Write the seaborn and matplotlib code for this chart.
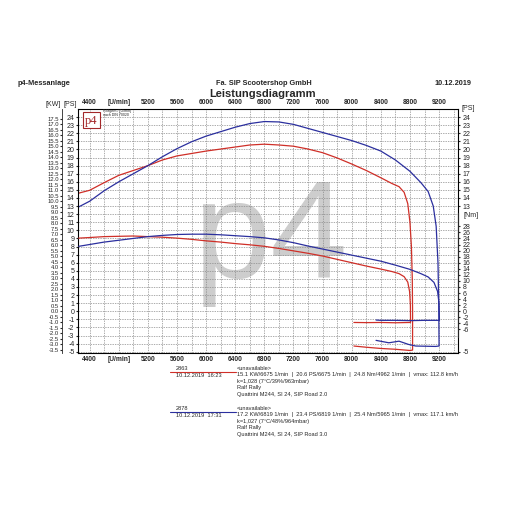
import numpy as np
import pandas as pd
import matplotlib
matplotlib.use("Agg")
import matplotlib.pyplot as plt
from matplotlib.lines import Line2D
from matplotlib.patches import Rectangle
import seaborn as sns

# run 2863 (red) - power [PS] and torque [Nm] vs rpm, incl. coast-down
red_pwr_rpm = [4250, 4400, 4600, 4800, 5000, 5200, 5400, 5600, 5800, 6000, 6200, 6400, 6600, 6800,
               7000, 7200, 7400, 7600, 7800, 8000, 8200, 8400, 8550, 8650, 8720, 8770, 8800, 8820,
               8832, 8836, 8836, 8800, 8600, 8400, 8200, 8030]
red_pwr_ps = [14.6, 14.95, 15.9, 16.8, 17.4, 18.0, 18.7, 19.2, 19.5, 19.8, 20.05, 20.3, 20.55, 20.65,
              20.55, 20.4, 20.05, 19.6, 18.95, 18.2, 17.4, 16.5, 15.8, 15.4, 14.7, 13.3, 11.0, 8.0,
              4.0, 0.0, -4.8, -4.85, -4.7, -4.6, -4.45, -4.3]
red_trq_rpm = [4250, 4400, 4600, 4800, 5000, 5200, 5400, 5600, 5800, 6000, 6200, 6400, 6600, 6800,
               7000, 7200, 7400, 7600, 7800, 8000, 8200, 8400, 8550, 8650, 8720, 8770, 8795, 8806,
               8808, 8600, 8400, 8200, 8030]
red_trq_nm = [24.1, 24.3, 24.6, 24.7, 24.8, 24.6, 24.4, 24.1, 23.7, 23.2, 22.8, 22.3, 21.9, 21.4,
              20.7, 19.9, 19.1, 18.2, 17.1, 16.0, 14.9, 13.9, 13.1, 12.4, 11.4, 9.6, 6.5, 2.0,
              -3.7, -3.8, -3.7, -3.75, -3.7]

# run 2878 (blue)
blue_pwr_rpm = [4250, 4400, 4600, 4800, 5000, 5200, 5400, 5600, 5800, 6000, 6200, 6400, 6600, 6800,
                7000, 7200, 7400, 7600, 7800, 8000, 8200, 8400, 8600, 8800, 8950, 9050, 9120, 9160,
                9185, 9195, 9200, 9150, 8880, 8780, 8650, 8510, 8334]
blue_pwr_ps = [12.9, 13.6, 14.9, 16.0, 17.0, 18.0, 19.1, 20.1, 20.95, 21.65, 22.2, 22.75, 23.2, 23.45,
               23.4, 23.1, 22.6, 22.1, 21.6, 21.1, 20.5, 19.8, 18.7, 17.3, 15.9, 14.8, 13.0, 10.5,
               6.0, 1.0, -4.3, -4.35, -4.3, -4.1, -3.7, -3.9, -3.6]
blue_trq_rpm = [4250, 4400, 4600, 4800, 5000, 5200, 5400, 5600, 5800, 6000, 6200, 6400, 6600, 6800,
                7000, 7200, 7400, 7600, 7800, 8000, 8200, 8400, 8600, 8800, 8950, 9050, 9130, 9180,
                9200, 9205, 9000, 8800, 8600, 8400, 8334]
blue_trq_nm = [21.4, 22.0, 22.8, 23.4, 24.0, 24.6, 25.0, 25.3, 25.4, 25.4, 25.2, 24.9, 24.6, 24.2,
               23.5, 22.6, 21.5, 20.5, 19.5, 18.5, 17.5, 16.5, 15.2, 13.8, 12.4, 11.3, 9.5, 6.5,
               2.5, -3.0, -3.0, -3.1, -3.0, -3.0, -2.9]

rpm_ticks = [4400, 4800, 5200, 5600, 6000, 6400, 6800, 7200, 7600, 8000, 8400, 8800, 9200]
rpm_labels = ["4400", "[U/min]", "5200", "5600", "6000", "6400", "6800", "7200", "7600",
              "8000", "8400", "8800", "9200"]

RED = "#cf2f28"
BLUE = "#2b2f9e"
PS_PER_NM = 0.375
KW_PER_PS = 0.7355
ps_lo, ps_hi = -5.1, 25.0

sns.set_style("white")
plt.rcParams['font.family'] = ['Liberation Sans', 'DejaVu Sans']
plt.rcParams['axes.unicode_minus'] = False

W = 511.0
def px(x, y):
    return x / W, 1 - y / W

fig = plt.figure(figsize=(5.11, 5.11), dpi=100)
ax = fig.add_axes([78 / W, 1 - 352.5 / W, 380 / W, 243.5 / W])
ax.set_xlim(4240, 9460)
ax.set_ylim(ps_lo, ps_hi)
tw = ax.twinx()
tw.set_ylim(ps_lo / PS_PER_NM, ps_hi / PS_PER_NM)

# watermark, below the grid
ax.text(*px(270, 278), "p4", transform=fig.transFigure, fontsize=100, color="#cdcdcd",
        ha="center", va="baseline", zorder=0.1, clip_on=False)

# grid
ax.set_xticks(rpm_ticks)
ax.set_xticklabels(rpm_labels)
ax.set_xticks(np.arange(4400, 9401, 200), minor=True)
ax.set_yticks(np.arange(-5, 25, 1))
ax.grid(True, which="both", axis="x", color="0.55", lw=0.5, ls=(0, (2, 1.5)))
ax.grid(True, which="major", axis="y", color="0.55", lw=0.5, ls=(0, (2, 1.5)))
ax.set_axisbelow(True)
ax.tick_params(axis="x", which="both", length=0, top=True, labeltop=True, labelsize=4.8, pad=2.5)
ax.tick_params(axis="y", which="major", length=1.5, labelsize=5, pad=1)
for lab in ax.get_xticklabels():
    lab.set_fontweight("bold")
for s in ax.spines.values():
    s.set_color("black")
    s.set_linewidth(0.8)

# curves
curves = [
    (ax, red_pwr_rpm, red_pwr_ps, RED),
    (ax, blue_pwr_rpm, blue_pwr_ps, BLUE),
    (tw, red_trq_rpm, red_trq_nm, RED),
    (tw, blue_trq_rpm, blue_trq_nm, BLUE),
]
for a, xs, ys, col in curves:
    df = pd.DataFrame({"rpm": xs, "val": ys})
    sns.lineplot(data=df, x="rpm", y="val", sort=False, estimator=None, color=col,
                 lw=0.9, ax=a)
ax.set_xlabel("")
ax.set_ylabel("")
tw.set_ylabel("")
tw.set_xlim(4240, 9460)

# torque axis on right
tw.set_yticks(np.arange(-6, 29, 2))
tw.tick_params(axis="y", length=1.5, labelsize=5, pad=2)
tw.spines["right"].set_bounds(-8.4, 32.5)
for side in ["left", "top", "bottom"]:
    tw.spines[side].set_visible(False)
tw.grid(False)

# right PS axis
rps = ax.secondary_yaxis("right")
rps.set_yticks(list(range(24, 12, -1)) + [-5])
rps.tick_params(length=1.5, labelsize=5, pad=2)
rps.spines["right"].set_visible(False)

# KW axis on the left
kw = ax.secondary_yaxis(-0.042, functions=(lambda p: p * KW_PER_PS, lambda k: k / KW_PER_PS))
kw_vals = np.arange(-3.5, 17.51, 0.5)
kw.set_yticks(kw_vals)
kw.set_yticklabels([f"{v:.1f}" for v in kw_vals])
kw.tick_params(length=1.5, labelsize=4.2, pad=0.5)
kw.spines["left"].set_linewidth(0.6)

# axis unit labels
fig.text(*px(53, 104), "[KW]", fontsize=5, ha="center", va="center")
fig.text(*px(70, 104), "[PS]", fontsize=5, ha="center", va="center")
fig.text(*px(462, 108), "[PS]", fontsize=5, ha="left", va="center")
fig.text(*px(463, 215), "[Nm]", fontsize=5, ha="left", va="center")

# header
fig.text(*px(18, 83), "p4-Messanlage", fontsize=5.3, fontweight="bold", ha="left", va="center")
fig.text(*px(264, 83), "Fa. SIP Scootershop GmbH", fontsize=5.3, fontweight="bold",
         ha="center", va="center")
fig.text(*px(471, 83), "10.12.2019", fontsize=5.3, fontweight="bold", ha="right", va="center")
fig.text(*px(263, 94), "Leistungsdiagramm", fontsize=8, fontweight="bold",
         ha="center", va="center")

# logo
fig.add_artist(Rectangle(px(83, 128), 17 / W, 16 / W, transform=fig.transFigure,
                         facecolor="white", edgecolor="#a3282a", lw=0.8, zorder=5))
fig.text(*px(91.5, 121), "p4", fontsize=9, color="#a3282a", family="Liberation Serif",
         ha="center", va="center", zorder=6)
fig.text(*px(103, 111), "P/Mgem / [U/min]", fontsize=2.6, ha="left", va="center")
fig.text(*px(103, 114.5), "nach DIN 70020", fontsize=2.6, ha="left", va="center")

# legend block
runs = [
    ("2863", "10.12.2019  16:23", RED,
     "15.1 KW/6675 1/min  |  20.6 PS/6675 1/min  |  24.8 Nm/4962 1/min  |  vmax: 112.8 km/h",
     "k=1,028 (7°C/39%/963mbar)", "Quattrini M244, SI 24, SIP Road 2.0", 368),
    ("2878", "10.12.2019  17:31", BLUE,
     "17.2 KW/6819 1/min  |  23.4 PS/6819 1/min  |  25.4 Nm/5965 1/min  |  vmax: 117.1 km/h",
     "k=1,027 (7°C/48%/964mbar)", "Quattrini M244, SI 24, SIP Road 3.0", 408),
]
fs = 4.1
for num, date, col, stats, kline, setup, y0 in runs:
    fig.text(*px(176, y0), num, fontsize=fs, ha="left", va="center")
    fig.add_artist(Line2D([170 / W, 236 / W], [1 - (y0 + 4) / W] * 2, color=col, lw=0.8))
    fig.text(*px(176, y0 + 7), date, fontsize=fs, ha="left", va="center")
    fig.text(*px(237, y0), "<unavailable>", fontsize=fs, ha="left", va="center")
    fig.text(*px(237, y0 + 6.5), stats, fontsize=fs, ha="left", va="center")
    fig.text(*px(237, y0 + 13.5), kline, fontsize=fs, ha="left", va="center")
    fig.text(*px(237, y0 + 20), "Ralf Rally", fontsize=fs, ha="left", va="center")
    fig.text(*px(237, y0 + 26.5), setup, fontsize=fs, ha="left", va="center")

fig.savefig("out.png", dpi=100)
